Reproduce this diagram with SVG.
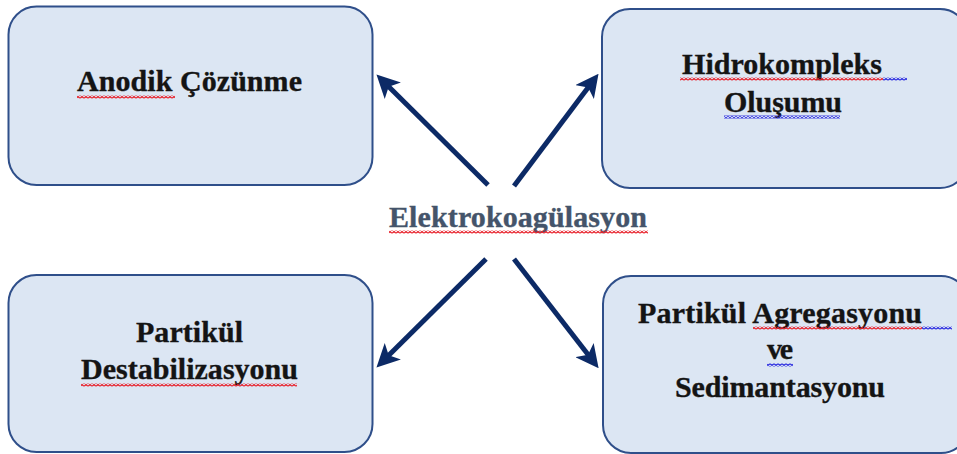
<svg xmlns="http://www.w3.org/2000/svg" width="957" height="454" viewBox="0 0 957 454">
  <style>
    .box { fill: #DCE6F3; stroke: #2F4F8A; stroke-width: 2; }
    .label { font-family: "Liberation Serif", "Times New Roman", serif; font-weight: bold; font-size: 30px; fill: #141414; stroke: #141414; stroke-width: 0.35; text-anchor: middle; }
    .center { fill: #44546A; stroke: #44546A; }
    .link { stroke: #0C2A66; stroke-width: 5; fill: none; marker-end: url(#head); }
  </style>
  <defs>
    <marker id="head" viewBox="0 0 10 10" refX="6" refY="5" markerWidth="4.6" markerHeight="4.6" orient="auto" markerUnits="strokeWidth">
      <path d="M0,0 L10,5 L0,10 L2.5,5 Z" fill="#0C2A66"/>
    </marker>
    <!-- spell-check style wavy underline tiles -->
    <pattern id="wavyRed" width="4" height="3" patternUnits="userSpaceOnUse">
      <path d="M0,2.5 L2,0.5 L4,2.5" fill="none" stroke="#E8202A" stroke-width="1.3"/>
    </pattern>
    <pattern id="wavyBlue" width="4" height="3" patternUnits="userSpaceOnUse">
      <path d="M0,2.5 L2,0.5 L4,2.5" fill="none" stroke="#2A2AE0" stroke-width="1.3"/>
    </pattern>
  </defs>

  <rect width="957" height="454" fill="#FFFFFF"/>

  <!-- connectors -->
  <g id="connectors">
    <line class="link" x1="488" y1="185" x2="383" y2="81"/>
    <line class="link" x1="514" y1="186" x2="593" y2="81"/>
    <line class="link" x1="486" y1="259" x2="383" y2="361"/>
    <line class="link" x1="514" y1="259" x2="593" y2="361"/>
  </g>

  <g id="anodik-cozunme">
    <rect class="box" x="8.5" y="6.5" width="364" height="178.5" rx="28" ry="28"/>
    <text class="label" x="189.5" y="91" textLength="225">Anodik Çözünme</text>
    <rect x="77" y="95.5" width="98" height="3" fill="url(#wavyRed)"/>
  </g>

  <g id="hidrokompleks-olusumu">
    <rect class="box" x="602" y="9" width="366" height="179" rx="28" ry="28"/>
    <text class="label" x="782" y="74" textLength="200">Hidrokompleks</text>
    <text class="label" x="783" y="112" textLength="118">Oluşumu</text>
    <rect x="680" y="77.5" width="203" height="3" fill="url(#wavyRed)"/>
    <rect x="883" y="77.5" width="24" height="3" fill="url(#wavyBlue)"/>
    <rect x="724" y="115.5" width="116" height="3" fill="url(#wavyBlue)"/>
  </g>

  <g id="partikul-destabilizasyonu">
    <rect class="box" x="8.5" y="275" width="364" height="177" rx="28" ry="28"/>
    <text class="label" x="189.5" y="342" textLength="107">Partikül</text>
    <text class="label" x="189.5" y="379" textLength="217">Destabilizasyonu</text>
    <rect x="81" y="383.5" width="216" height="3" fill="url(#wavyRed)"/>
  </g>

  <g id="agregasyon-sedimantasyon">
    <rect class="box" x="603" y="276" width="366" height="177" rx="28" ry="28"/>
    <text class="label" x="780" y="323" textLength="284">Partikül Agregasyonu</text>
    <text class="label" x="780" y="359" textLength="26">ve</text>
    <text class="label" x="780" y="397" textLength="210">Sedimantasyonu</text>
    <rect x="753" y="326.5" width="169" height="3" fill="url(#wavyRed)"/>
    <rect x="922" y="326.5" width="30" height="3" fill="url(#wavyBlue)"/>
    <rect x="767" y="363.5" width="26" height="3" fill="url(#wavyBlue)"/>
  </g>

  <g id="elektrokoagulasyon">
    <text class="label center" x="518" y="227" textLength="258">Elektrokoagülasyon</text>
    <rect x="389" y="230.5" width="259" height="3" fill="url(#wavyRed)"/>
  </g>
</svg>
